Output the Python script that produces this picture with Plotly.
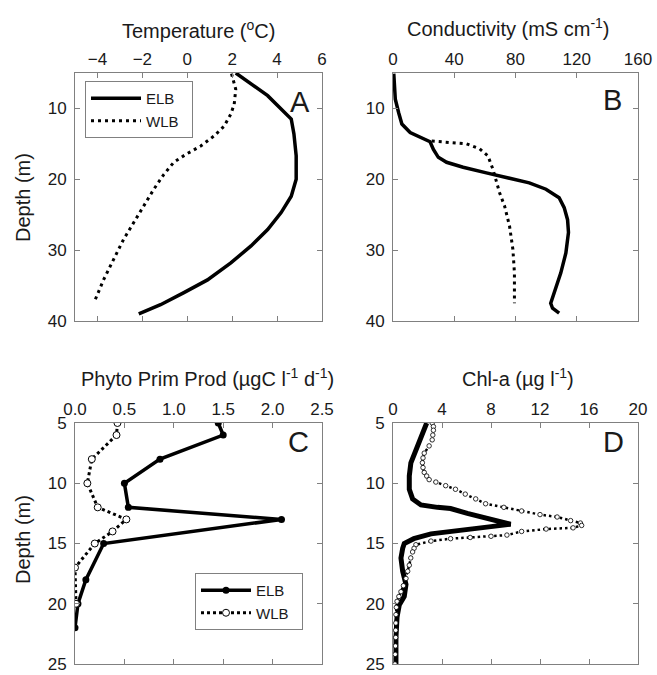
import plotly.graph_objects as go

# ---------------- Data ----------------
# Panel A: Temperature (deg C) vs depth (m)
temp_depth_elb = [5.0, 8.2, 11.5, 13.6, 16.7, 20.0, 22.4, 24.7, 27.1, 29.4, 31.8, 34.2, 36.0, 37.7, 39.0]
temp_elb = [2.16, 3.58, 4.63, 4.75, 4.85, 4.85, 4.63, 4.18, 3.58, 2.84, 1.94, 0.90, -0.15, -1.19, -2.16]
temp_depth_wlb = [5.1, 7.3, 9.4, 10.8, 12.5, 13.9, 15.3, 16.5, 17.6, 19.3, 21.4, 23.8, 26.1, 28.5, 31.3, 34.2, 37.0]
temp_wlb = [1.97, 2.16, 2.09, 1.94, 1.64, 1.19, 0.60, -0.07, -0.60, -1.04, -1.49, -1.94, -2.39, -2.84, -3.28, -3.73, -4.10]

# Panel B: Conductivity (mS/cm) vs depth (m)
cond_depth_elb = [5.1, 8.7, 10.6, 12.2, 13.4, 14.1, 14.7, 15.8, 16.9, 17.6, 18.3, 19.1, 19.8, 20.5, 21.4,
                  22.6, 24.0, 25.7, 27.5, 30.4, 33.2, 36.0, 37.5, 38.2, 38.9]
cond_elb = [0.5, 1.5, 3.7, 5.8, 11.2, 17.7, 24.2, 26.4, 29.6, 35.0, 45.8, 61.0, 76.0, 89.0, 99.9,
            108.5, 111.8, 114.0, 114.6, 112.9, 109.6, 105.3, 103.0, 104.2, 108.5]
cond_depth_wlb = [14.6, 14.8, 15.0, 15.7, 16.7, 18.6, 20.2, 21.9, 23.8, 26.6, 29.9, 33.2, 37.5]
cond_wlb = [25.3, 37.2, 48.0, 56.6, 62.0, 65.3, 67.5, 69.6, 72.9, 76.1, 78.3, 79.3, 79.3]

# Panel C: Phytoplankton primary production vs depth (m)
pp_depth_elb = [5, 6, 8, 10, 12, 13, 15, 18, 20, 22]
pp_elb = [1.45, 1.50, 0.86, 0.50, 0.54, 2.09, 0.29, 0.11, 0.03, 0.00]
pp_depth_wlb = [5, 6, 8, 10, 12, 13, 14, 15, 17, 20]
pp_wlb = [0.43, 0.42, 0.17, 0.125, 0.23, 0.52, 0.38, 0.20, 0.00, 0.01]

# Panel D: Chl-a (ug/l) vs depth (m)
chl_depth_elb = [5.0, 5.85, 6.7, 7.5, 8.3, 9.4, 10.5, 11.3, 11.8, 12.0, 12.1, 12.5, 12.9, 13.2, 13.4,
                 13.6, 13.9, 14.2, 14.6, 15.0, 15.4, 16.2, 17.3, 18.4, 19.4, 20.1, 21.1, 22.8, 25.0]
chl_elb = [2.75, 2.41, 2.0, 1.68, 1.46, 1.33, 1.33, 1.6, 2.28, 3.63, 4.7, 6.07, 7.7, 8.8, 9.6,
           8.0, 5.26, 3.1, 1.7, 0.92, 0.79, 0.65, 0.79, 1.06, 0.92, 0.51, 0.33, 0.24, 0.24]
chl_depth_wlb = [5.0, 5.3, 5.6, 6.0, 6.4, 6.9, 7.5, 7.9, 8.3, 8.7, 9.1, 9.4, 9.7, 9.9, 10.2, 10.5, 10.9,
                 11.3, 11.7, 12.0, 12.3, 12.6, 12.8, 13.1, 13.3, 13.5, 13.7, 13.8, 14.0, 14.3, 14.4,
                 14.5, 14.6, 14.8, 15.1, 15.4, 15.7, 16.2, 16.8, 17.3, 17.9, 18.5, 19.0, 19.4, 19.8,
                 20.3, 20.9, 21.6, 22.2, 22.8, 23.5, 24.2, 25.0]
chl_wlb = [3.2, 3.3, 3.3, 3.25, 3.2, 2.95, 2.55, 2.45, 2.4, 2.45, 2.55, 2.75, 2.95, 3.5, 4.3, 5.1, 5.9,
           6.75, 7.56, 9.05, 10.5, 12.0, 13.4, 14.5, 15.3, 15.4, 14.7, 12.5, 10.5, 9.3, 8.0,
           6.3, 4.7, 3.1, 1.87, 1.72, 1.6, 1.45, 1.33, 1.2, 1.06, 0.85, 0.65, 0.48, 0.33,
           0.27, 0.24, 0.23, 0.22, 0.22, 0.2, 0.18, 0.16]

# ---------------- Figure ----------------
W, H = 657, 675
FONT = "Liberation Sans, Arial, sans-serif"
GRAY = "#808080"
TXT = "#1a1a1a"
PAD = "\u00a0\u00a0"  # right padding inside legend boxes

def px(x):
    return x / W

def py(y):
    return 1 - y / H

fig = go.Figure()

# Panel A
fig.add_trace(go.Scatter(x=temp_elb, y=temp_depth_elb, mode="lines", name="ELB" + PAD,
                         line=dict(color="black", width=3.5), xaxis="x", yaxis="y", legend="legend"))
fig.add_trace(go.Scatter(x=temp_wlb, y=temp_depth_wlb, mode="lines", name="WLB" + PAD,
                         line=dict(color="black", width=3, dash="3px,4px"), xaxis="x", yaxis="y", legend="legend"))
# Panel B
fig.add_trace(go.Scatter(x=cond_elb, y=cond_depth_elb, mode="lines", name="ELB", showlegend=False,
                         line=dict(color="black", width=3.5), xaxis="x2", yaxis="y2"))
fig.add_trace(go.Scatter(x=cond_wlb, y=cond_depth_wlb, mode="lines", name="WLB", showlegend=False,
                         line=dict(color="black", width=3, dash="3px,4px"), xaxis="x2", yaxis="y2"))
# Panel C
fig.add_trace(go.Scatter(x=pp_elb, y=pp_depth_elb, mode="lines+markers", name="ELB" + PAD,
                         line=dict(color="black", width=3.5),
                         marker=dict(symbol="circle", size=7, color="black"),
                         xaxis="x3", yaxis="y3", legend="legend2"))
fig.add_trace(go.Scatter(x=pp_wlb, y=pp_depth_wlb, mode="lines+markers", name="WLB" + PAD,
                         line=dict(color="black", width=3, dash="3px,3px"),
                         marker=dict(symbol="circle", size=7, color="white", line=dict(color="black", width=1)),
                         xaxis="x3", yaxis="y3", legend="legend2"))
# Panel D
fig.add_trace(go.Scatter(x=chl_elb, y=chl_depth_elb, mode="lines", name="ELB", showlegend=False,
                         line=dict(color="black", width=5), xaxis="x4", yaxis="y4"))
fig.add_trace(go.Scatter(x=chl_wlb, y=chl_depth_wlb, mode="lines+markers", name="WLB", showlegend=False,
                         line=dict(color="black", width=2.5, dash="2.5px,3px"),
                         marker=dict(symbol="circle", size=4.5, color="white", line=dict(color="black", width=0.8)),
                         xaxis="x4", yaxis="y4"))

def axis(rng, domain, tickvals, anchor, side=None, fmt=None):
    d = dict(range=rng, domain=domain, tickvals=tickvals, anchor=anchor,
             showline=True, linecolor=GRAY, linewidth=1, mirror="ticks",
             ticks="inside", ticklen=5, tickcolor=GRAY, tickwidth=1,
             tickfont=dict(size=17, color=TXT, family=FONT),
             ticklabeloverflow="allow",
             showgrid=False, zeroline=False, fixedrange=True, automargin=False)
    if side:
        d["side"] = side
    else:
        d["ticklabelstandoff"] = 4
    if fmt:
        d["tickformat"] = fmt
    return d

xA = [px(75), px(322)]
xB = [px(393), px(638)]
yTop = [py(321), py(73)]
yBot = [py(664), py(423)]

legend_common = dict(xanchor="left", yanchor="top",
                     bordercolor=GRAY, borderwidth=1, bgcolor="white",
                     font=dict(size=15, color=TXT, family=FONT), itemwidth=50,
                     tracegroupgap=0)

fig.update_layout(
    width=W, height=H, autosize=False,
    margin=dict(l=0, r=0, t=0, b=0, pad=0, autoexpand=False),
    paper_bgcolor="white", plot_bgcolor="white",
    font=dict(family=FONT, color=TXT),
    xaxis=axis([-5, 6], xA, [-4, -2, 0, 2, 4, 6], "y", side="top"),
    yaxis=axis([40, 5], yTop, [10, 20, 30, 40], "x"),
    xaxis2=axis([0, 160], xB, [0, 40, 80, 120, 160], "y2", side="top"),
    yaxis2=axis([40, 5], yTop, [10, 20, 30, 40], "x2"),
    xaxis3=axis([0, 2.5], xA, [0, 0.5, 1.0, 1.5, 2.0, 2.5], "y3", side="top", fmt=".1f"),
    yaxis3=axis([25, 5], yBot, [5, 10, 15, 20, 25], "x3"),
    xaxis4=axis([0, 20], xB, [0, 4, 8, 12, 16, 20], "y4", side="top"),
    yaxis4=axis([25, 5], yBot, [5, 10, 15, 20, 25], "x4"),
    legend=dict(x=px(85), y=py(81), **legend_common),
    legend2=dict(x=px(195), y=py(573), **legend_common),
    showlegend=True,
)

annotations = [
    # axis titles
    dict(x=px(198), y=py(30), text="Temperature (<sup>o</sup>C)", font=dict(size=20)),
    dict(x=px(508), y=py(27), text="Conductivity (mS cm<sup>-1</sup>)", font=dict(size=20)),
    dict(x=px(207), y=py(377), text="Phyto Prim Prod (µgC l<sup>-1</sup> d<sup>-1</sup>)", font=dict(size=20)),
    dict(x=px(518), y=py(377), text="Chl-a (µg l<sup>-1</sup>)", font=dict(size=20)),
    dict(x=px(23), y=py(198), text="Depth (m)", textangle=-90, font=dict(size=20)),
    dict(x=px(23), y=py(540), text="Depth (m)", textangle=-90, font=dict(size=20)),
    # panel letters
    dict(x=px(300), y=py(102), text="A", font=dict(size=29)),
    dict(x=px(612), y=py(100), text="B", font=dict(size=29)),
    dict(x=px(298), y=py(442), text="C", font=dict(size=29)),
    dict(x=px(613), y=py(442), text="D", font=dict(size=29)),
]
for a in annotations:
    a.update(xref="paper", yref="paper", showarrow=False, xanchor="center", yanchor="middle")
    a["font"].update(family=FONT, color=TXT)
fig.update_layout(annotations=annotations)

fig.write_html("out.html",
               config={"displayModeBar": False},
               post_script="document.body.style.margin='0px';document.body.style.padding='0px';"
                           "document.documentElement.style.overflow='hidden';")
